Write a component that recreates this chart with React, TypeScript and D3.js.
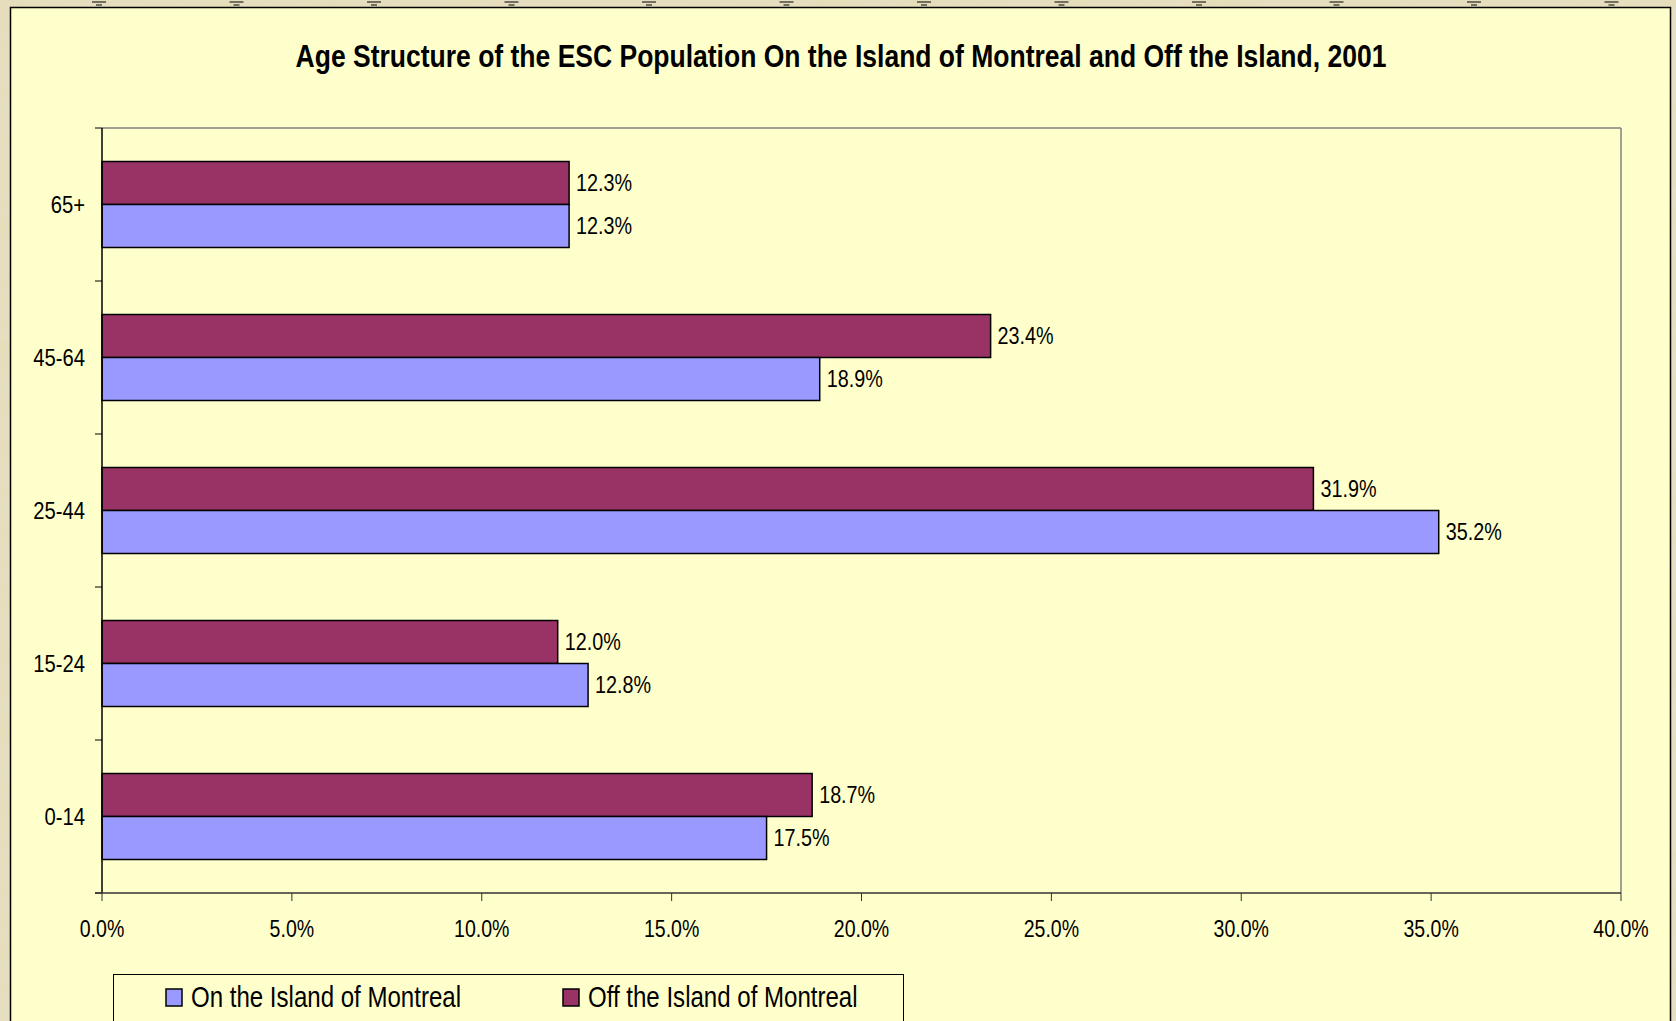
import React from "react";
import * as d3 from "d3";

const categories = ["65+", "45-64", "25-44", "15-24", "0-14"];
const seriesNames = ["Off the Island of Montreal", "On the Island of Montreal"];
const offIsland = [12.3, 23.4, 31.9, 12.0, 18.7];
const onIsland = [12.3, 18.9, 35.2, 12.8, 17.5];
const xTicks = [0, 5, 10, 15, 20, 25, 30, 35, 40];
const legendOrder = ["On the Island of Montreal", "Off the Island of Montreal"];
const title = "Age Structure of the ESC Population On the Island of Montreal and Off the Island, 2001";

const W = 1676;
const H = 1021;
const FONT = "'Liberation Sans', Arial, sans-serif";
const colors: Record<string, string> = {
  "Off the Island of Montreal": "#993366",
  "On the Island of Montreal": "#9999FF",
};

function NText(props: {
  x: number;
  y: number;
  sx: number;
  size: number;
  anchor?: "start" | "middle" | "end";
  dy?: string;
  bold?: boolean;
  children: React.ReactNode;
}) {
  const { x, y, sx, size, anchor = "start", dy, bold, children } = props;
  return (
    <text
      transform={`translate(${x},${y}) scale(${sx},1)`}
      textAnchor={anchor}
      dy={dy}
      fontFamily={FONT}
      fontWeight={bold ? "bold" : "normal"}
      fontSize={size}
      fill="#000"
    >
      {children}
    </text>
  );
}

export default function App() {
  const plot = { left: 102, right: 1621, top: 128, bottom: 893 };
  const x = d3.scaleLinear().domain([0, 40]).range([plot.left, plot.right]);
  const pad = 67 / 153;
  const y = d3
    .scaleBand<string>()
    .domain(categories)
    .range([plot.top, plot.bottom])
    .paddingInner(pad)
    .paddingOuter(pad / 2);
  const sub = d3.scaleBand<string>().domain(seriesNames).range([0, y.bandwidth()]);
  const values: Record<string, number[]> = {
    "Off the Island of Montreal": offIsland,
    "On the Island of Montreal": onIsland,
  };
  const step = y.step();
  const boundaries = d3.range(categories.length + 1).map((i) => plot.top + i * step);
  const tacks = d3.range(12).map((i) => 99 + i * 137.5);

  return (
    <svg
      width={W}
      height={H}
      style={{ position: "absolute", left: 0, top: 0, display: "block" }}
      xmlns="http://www.w3.org/2000/svg"
    >
      <defs>
        <filter id="parch" x="0" y="0" width="100%" height="100%">
          <feTurbulence type="fractalNoise" baseFrequency="0.02 0.05" numOctaves="3" seed="4" result="n" />
          <feColorMatrix
            in="n"
            type="matrix"
            values="0 0 0 0 0.80  0 0 0 0 0.76  0 0 0 0 0.62  0 0 0 0.9 -0.25"
          />
        </filter>
      </defs>
      <rect x={0} y={0} width={W} height={H} fill="#E6DDBB" />
      <rect x={0} y={0} width={W} height={H} filter="url(#parch)" opacity={0.7} />
      {tacks.map((t, i) => (
        <g key={i}>
          <line x1={t - 7} x2={t + 7} y1={2} y2={2} stroke="#000" strokeWidth={1} />
          <line x1={t - 3} x2={t + 3} y1={5} y2={5} stroke="#000" strokeWidth={1} />
        </g>
      ))}
      {/* chart frame */}
      <rect x={10.5} y={7.5} width={1660} height={1030} fill="#FFFFCC" stroke="#000" strokeWidth={1.5} />

      {/* title */}
      <NText x={841} y={67} sx={0.855} size={31} anchor="middle" bold>
        {title}
      </NText>

      {/* plot area border */}
      <line x1={plot.left} x2={plot.right} y1={plot.top} y2={plot.top} stroke="#808080" strokeWidth={1.5} />
      <line x1={plot.right} x2={plot.right} y1={plot.top} y2={plot.bottom} stroke="#808080" strokeWidth={1.5} />

      {/* bars */}
      {categories.map((c, ci) => (
        <g key={c}>
          {seriesNames.map((s) => {
            const v = values[s][ci];
            const by = (y(c) as number) + (sub(s) as number);
            const bh = sub.bandwidth();
            return (
              <g key={s}>
                <rect
                  x={x(0)}
                  y={by}
                  width={x(v) - x(0)}
                  height={bh}
                  fill={colors[s]}
                  stroke="#000"
                  strokeWidth={1.5}
                />
                <NText x={x(v) + 7} y={by + bh / 2} dy="0.35em" sx={0.86} size={23}>
                  {v.toFixed(1)}%
                </NText>
              </g>
            );
          })}
        </g>
      ))}

      {/* y axis */}
      <line x1={plot.left} x2={plot.left} y1={plot.top} y2={plot.bottom} stroke="#000" strokeWidth={1.5} />
      {boundaries.map((b, i) => (
        <line key={i} x1={plot.left - 7} x2={plot.left} y1={b} y2={b} stroke="#000" strokeWidth={1} />
      ))}
      {categories.map((c) => (
        <NText
          key={c}
          x={85}
          y={(y(c) as number) + y.bandwidth() / 2}
          dy="0.35em"
          anchor="end"
          sx={0.88}
          size={23}
        >
          {c}
        </NText>
      ))}

      {/* x axis */}
      <line x1={plot.left - 7} x2={plot.right} y1={plot.bottom} y2={plot.bottom} stroke="#333" strokeWidth={1.5} />
      {xTicks.map((t) => (
        <g key={t}>
          <line x1={x(t)} x2={x(t)} y1={plot.bottom} y2={plot.bottom + 8} stroke="#333" strokeWidth={1} />
          <NText x={x(t)} y={929} dy="0.35em" anchor="middle" sx={0.85} size={23}>
            {t.toFixed(1)}%
          </NText>
        </g>
      ))}

      {/* legend */}
      <rect x={113.5} y={974.5} width={790} height={50} fill="#FFFFCC" stroke="#000" strokeWidth={1} />
      {legendOrder.map((s, i) => {
        const lx = i === 0 ? 166 : 563;
        return (
          <g key={s}>
            <rect x={lx} y={989} width={16} height={17} fill={colors[s]} stroke="#000" strokeWidth={1.5} />
            <NText x={lx + 25} y={1007} sx={0.83} size={29}>
              {s}
            </NText>
          </g>
        );
      })}
    </svg>
  );
}
